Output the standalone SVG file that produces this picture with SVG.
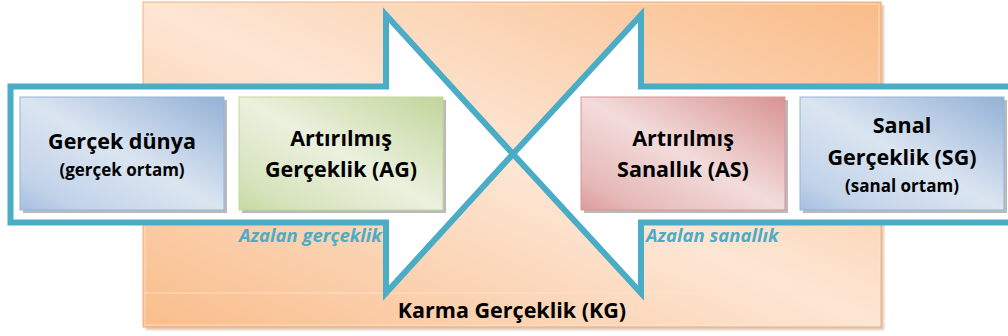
<svg xmlns="http://www.w3.org/2000/svg" width="1008" height="336" viewBox="0 0 1008 336">
<defs>
<linearGradient id="gOrange" x1="1" y1="0" x2="0" y2="1">
<stop offset="0" stop-color="#f9bb87"/>
<stop offset="0.5" stop-color="#fde6d4"/>
<stop offset="1" stop-color="#f9bd8b"/>
</linearGradient>
<linearGradient id="gBlue" x1="1" y1="0" x2="0" y2="1">
<stop offset="0" stop-color="#93b1d6"/>
<stop offset="0.5" stop-color="#dbe5f1"/>
<stop offset="0.85" stop-color="#c2d3e9"/>
<stop offset="1" stop-color="#a5bee0"/>
</linearGradient>
<linearGradient id="gGreen" x1="1" y1="0" x2="0" y2="1">
<stop offset="0" stop-color="#c2d59a"/>
<stop offset="0.5" stop-color="#ebf1de"/>
<stop offset="0.85" stop-color="#d6e3bc"/>
<stop offset="1" stop-color="#c7d9a2"/>
</linearGradient>
<linearGradient id="gRed" x1="1" y1="0" x2="0" y2="1">
<stop offset="0" stop-color="#d89391"/>
<stop offset="0.5" stop-color="#f2dcdb"/>
<stop offset="0.85" stop-color="#e6b9b8"/>
<stop offset="1" stop-color="#dc9c9a"/>
</linearGradient>
<filter id="soft" x="-5%" y="-5%" width="110%" height="110%"><feGaussianBlur stdDeviation="1"/></filter>
</defs>
<style>
.arrow{fill:#ffffff;stroke:#4bacc6;stroke-width:6;stroke-linejoin:miter}
.shadow{fill:#8c8c8c;opacity:0.6}
.t{font-family:"Open Sans","Noto Sans",sans-serif;font-weight:700;fill:#000;text-anchor:middle}
.big{font-size:21.5px}
.small{font-size:17px}
.lbl{font-family:"Open Sans","Noto Sans",sans-serif;font-weight:700;font-style:italic;font-size:18.5px;fill:#4bacc6}
</style>
<g id="mixed-reality">
<rect x="146" y="5" width="738" height="325" fill="#c9a284" opacity="0.6" filter="url(#soft)"/>
<rect x="143" y="2" width="738" height="325" fill="url(#gOrange)" stroke="#f4ae7b" stroke-width="1"/>
<rect x="145" y="4" width="734" height="321" fill="none" stroke="#fde3cd" stroke-width="1" opacity="0.8"/>
<line x1="145" y1="293" x2="879" y2="293" stroke="#fde3cd" stroke-width="1" opacity="0.8"/>
<text class="t" x="512" y="318" font-size="21.5">Karma Gerçeklik (KG)</text>
</g>
<g id="connectors">
<path id="arrow-left" class="arrow" d="M10.5,86.5 H386 V15 L513,154 L386,293 V222.5 H10.5 Z"/>
<path id="arrow-right" class="arrow" d="M1014,86.5 H641 V15 L513,154 L641,293 V222.5 H1014 Z"/>
<text class="lbl" x="239" y="242">Azalan gerçeklik</text>
<text class="lbl" x="646" y="242">Azalan sanallık</text>
</g>
<g id="real-world">
<rect class="shadow" x="23" y="100" width="204" height="113"/>
<rect x="20" y="97" width="204" height="113" fill="url(#gBlue)" stroke="#95b3d7" stroke-width="1"/>
<text class="t big" x="122" y="149">Gerçek dünya</text>
<text class="t small" x="122" y="176">(gerçek ortam)</text>
</g>
<g id="augmented-reality">
<rect class="shadow" x="242" y="100" width="204" height="113"/>
<rect x="239" y="97" width="204" height="113" fill="url(#gGreen)" stroke="#c3d69b" stroke-width="1"/>
<text class="t big" x="341" y="146">Artırılmış</text>
<text class="t big" x="341" y="177">Gerçeklik (AG)</text>
</g>
<g id="augmented-virtuality">
<rect class="shadow" x="584" y="100" width="204" height="113"/>
<rect x="581" y="97" width="204" height="113" fill="url(#gRed)" stroke="#d99694" stroke-width="1"/>
<text class="t big" x="683" y="146">Artırılmış</text>
<text class="t big" x="683" y="177">Sanallık (AS)</text>
</g>
<g id="virtual-reality">
<rect class="shadow" x="803" y="100" width="204" height="113"/>
<rect x="800" y="97" width="204" height="113" fill="url(#gBlue)" stroke="#95b3d7" stroke-width="1"/>
<text class="t big" x="902" y="133">Sanal</text>
<text class="t big" x="902" y="165">Gerçeklik (SG)</text>
<text class="t small" x="902" y="192">(sanal ortam)</text>
</g>
</svg>
